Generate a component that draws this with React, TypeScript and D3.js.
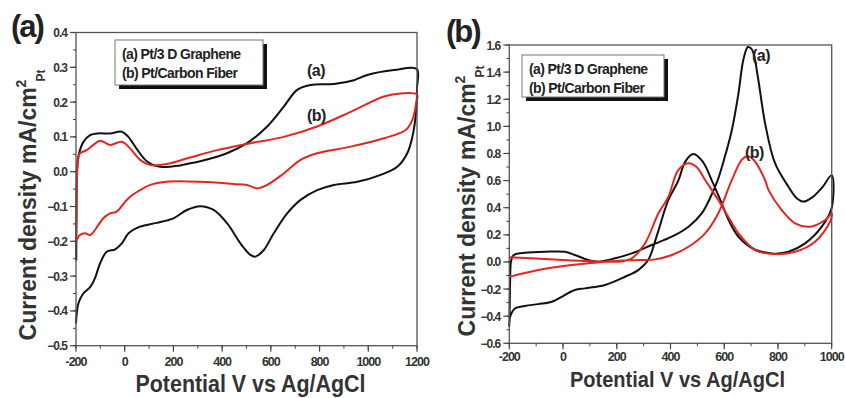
import * as d3 from "d3";

// ---- panel (a): cyclic voltammograms, Pt/3D graphene (black) and Pt/carbon fiber (red)
const cvGraphenePotential = [
  -199, -198, -196, -190, -170, -142, -108, -60, -12, 15, 50, 91, 146, 228, 269, 310, 420, 502, 585, 653, 708, 763, 859,
  941, 996, 1106, 1199,
  1200, 1197, 1181, 1160, 1119, 1051, 955, 859, 790, 722, 667, 612, 571, 537, 516, 475, 420, 365, 310, 255, 200, 131, 63,
  16, -12, -39, -74, -101, -122, -142, -170, -190, -200,
];
const cvGrapheneCurrent = [
  -0.255, -0.12, 0.0, 0.045, 0.085, 0.105, 0.11, 0.11, 0.115, 0.1, 0.065, 0.03, 0.014, 0.018, 0.024, 0.03, 0.053, 0.082,
  0.13, 0.187, 0.235, 0.249, 0.252, 0.263, 0.278, 0.292, 0.295,
  0.24, 0.177, 0.1, 0.053, 0.014, -0.009, -0.029, -0.038, -0.053, -0.081, -0.12, -0.177, -0.225, -0.244, -0.239, -0.206,
  -0.148, -0.11, -0.099, -0.11, -0.134, -0.147, -0.158, -0.177, -0.206, -0.223, -0.23, -0.263, -0.306, -0.332, -0.35,
  -0.378, -0.436,
];
const cvFiberPotential = [
  -200, -198, -195, -190, -184, -156, -129, -101, -60, -12, 22, 63, 105, 173, 269, 379, 516, 653, 790, 928, 1064, 1133,
  1200,
  1195, 1181, 1154, 1064, 928, 790, 722, 653, 585, 544, 502, 447, 310, 173, 105, 63, 22, 2, -33, -60, -88, -108, -142,
  -163, -184, -200,
];
const cvFiberCurrent = [
  -0.19, -0.1, 0.0, 0.04, 0.053, 0.062, 0.077, 0.089, 0.077, 0.086, 0.067, 0.034, 0.019, 0.022, 0.041, 0.062, 0.082, 0.1,
  0.13, 0.172, 0.216, 0.225, 0.222,
  0.192, 0.149, 0.12, 0.096, 0.072, 0.053, 0.034, -0.005, -0.038, -0.048, -0.038, -0.035, -0.029, -0.029, -0.038, -0.053,
  -0.072, -0.086, -0.115, -0.12, -0.134, -0.153, -0.182, -0.177, -0.182, -0.201,
];

// ---- panel (b): methanol oxidation scans
const moGraphenePotential = [
  -199, -197, -194, -188, -179, -142, -67, 7, 44, 94, 131, 194, 256, 330, 405, 467, 517, 547, 575, 600, 628, 653, 671,
  688, 700, 709, 727, 752, 789, 839, 870, 895, 930, 965, 1000,
  1000, 963, 901, 839, 800, 777, 715, 653, 616, 585, 554, 520, 485, 455, 429, 392, 350, 317, 280, 231, 156, 82, 44, -5,
  -42, -92, -142, -179, -197, -200,
];
const moGrapheneCurrent = [
  -0.44, -0.15, 0.0, 0.04, 0.056, 0.068, 0.075, 0.075, 0.051, 0.014, 0.002, 0.027, 0.063, 0.125, 0.186, 0.26, 0.36, 0.47,
  0.6, 0.76, 0.97, 1.244, 1.49, 1.585, 1.575, 1.54, 1.342, 1.023, 0.728, 0.555, 0.47, 0.445, 0.48, 0.55, 0.64,
  0.4, 0.26, 0.137, 0.075, 0.062, 0.063, 0.09, 0.186, 0.31, 0.46, 0.6, 0.74, 0.796, 0.74, 0.6, 0.457, 0.2, 0.014, -0.06,
  -0.109, -0.17, -0.195, -0.207, -0.257, -0.294, -0.311, -0.325, -0.343, -0.404, -0.478,
];
const moFiberPotential = [
  -200, -92, 32, 156, 280, 343, 405, 467, 529, 578, 628, 665, 684, 700, 715, 752, 765, 814, 864, 919, 976, 1000,
  994, 938, 864, 790, 715, 653, 616, 578, 529, 497, 467, 429, 392, 355, 305, 250, 150, 0, -100, -200,
];
const moFiberCurrent = [
  -0.11, -0.06, -0.023, 0.002, 0.014, 0.019, 0.051, 0.112, 0.211, 0.359, 0.604, 0.752, 0.78, 0.77, 0.74, 0.604, 0.53, 0.383,
  0.285, 0.26, 0.309, 0.359,
  0.297, 0.149, 0.075, 0.058, 0.088, 0.211, 0.33, 0.457, 0.604, 0.7, 0.728, 0.678, 0.48, 0.359, 0.137, 0.02, 0.002, 0.015,
  0.025, 0.035,
];

const yTicksA = [-0.5, -0.4, -0.3, -0.2, -0.1, 0.0, 0.1, 0.2, 0.3, 0.4];
const xTicksA = [-200, 0, 200, 400, 600, 800, 1000, 1200];
const yTicksB = [-0.6, -0.4, -0.2, 0.0, 0.2, 0.4, 0.6, 0.8, 1.0, 1.2, 1.4, 1.6];
const xTicksB = [-200, 0, 200, 400, 600, 800, 1000];
const legendLabels = ["(a) Pt/3 D Graphene", "(b) Pt/Carbon Fiber"];

const BLACK = "#111";
const RED = "#e3261f";
const FONT = "'Liberation Sans', Arial, sans-serif";

type Series = { x: number[]; y: number[]; color: string };

function Panel({
  left, right, top, bottom, xDomain, yDomain, xTicks, yTicks, xMinor, yMinor, series, letter, letterX, letterY,
  legendBox, notes, xTitle, yTitleX, yTitleY, tickGap,
}: any) {
  const x = d3.scaleLinear().domain(xDomain).range([left, right]);
  const y = d3.scaleLinear().domain(yDomain).range([bottom, top]);
  const fmt = d3.format(".1f");
  const line = d3
    .line<[number, number]>()
    .x((d) => x(d[0]))
    .y((d) => y(d[1]))
    .curve(d3.curveCatmullRom.alpha(0.5));

  const xMinorTicks = d3.range(xDomain[0], xDomain[1] + 1e-9, xMinor);
  const yMinorTicks = d3.range(0, Math.round((yDomain[1] - yDomain[0]) / yMinor) + 1).map((i) => yDomain[0] + i * yMinor);

  return (
    <g>
      {/* curves */}
      {series.map((s: Series, i: number) => (
        <path
          key={i}
          d={line(s.x.map((v, j) => [v, s.y[j]]) as [number, number][]) || ""}
          fill="none"
          stroke={s.color}
          strokeWidth={2}
          strokeLinejoin="round"
        />
      ))}
      {/* frame */}
      <rect x={left} y={top} width={right - left} height={bottom - top} fill="none" stroke="#555" strokeWidth={1.3} />
      {/* minor ticks */}
      {xMinorTicks.map((t: number) => (
        <line key={"xm" + t} x1={x(t)} x2={x(t)} y1={bottom} y2={bottom + 3} stroke="#444" strokeWidth={1} />
      ))}
      {yMinorTicks.map((t: number, i: number) => (
        <line key={"ym" + i} x1={left - 3} x2={left} y1={y(t)} y2={y(t)} stroke="#444" strokeWidth={1} />
      ))}
      {/* major ticks + labels */}
      {xTicks.map((t: number) => (
        <g key={"x" + t}>
          <line x1={x(t)} x2={x(t)} y1={bottom} y2={bottom + 6} stroke="#444" strokeWidth={1.2} />
          <text
            x={x(t)}
            y={bottom + tickGap}
            textAnchor="middle"
            fontFamily={FONT}
            fontWeight="bold"
            fontSize={12.5}
            letterSpacing={-1}
            fill="#333"
          >
            {t}
          </text>
        </g>
      ))}
      {yTicks.map((t: number) => (
        <g key={"y" + t}>
          <line x1={left - 6} x2={left} y1={y(t)} y2={y(t)} stroke="#444" strokeWidth={1.2} />
          <text
            x={left - 9}
            y={y(t) + 4.5}
            textAnchor="end"
            fontFamily={FONT}
            fontWeight="bold"
            fontSize={12}
            letterSpacing={-1}
            fill="#333"
          >
            {fmt(t)}
          </text>
        </g>
      ))}
      {/* legend with drop shadow */}
      <rect
        x={legendBox.x + 4}
        y={legendBox.y + 4}
        width={legendBox.w}
        height={legendBox.h}
        fill="#111"
      />
      <rect x={legendBox.x} y={legendBox.y} width={legendBox.w} height={legendBox.h} fill="#fff" stroke="#777" strokeWidth={1} />
      {legendLabels.map((l, i) => (
        <text
          key={l}
          x={legendBox.x + 7}
          y={legendBox.y + 19 + i * 19}
          fontFamily={FONT}
          fontWeight="bold"
          fontSize={14}
          letterSpacing={-0.6}
          fill="#222"
        >
          {l}
        </text>
      ))}
      {/* curve notes */}
      {notes.map((n: any) => (
        <text key={n.t} x={n.x} y={n.y} fontFamily={FONT} fontWeight="bold" fontSize={16} letterSpacing={-0.5} fill="#222">
          {n.t}
        </text>
      ))}
      {/* panel letter */}
      <text x={letterX} y={letterY} fontFamily={FONT} fontWeight="bold" fontSize={31} letterSpacing={-2} fill="#222">
        {letter}
      </text>
      {/* axis titles */}
      <text
        x={(left + right) / 2 + xTitle.dx}
        y={xTitle.y}
        textAnchor="middle"
        fontFamily={FONT}
        fontWeight="bold"
        fontSize={xTitle.size}
        textLength={xTitle.len}
        lengthAdjust="spacingAndGlyphs"
        fill="#333"
      >
        Potential V vs Ag/AgCl
      </text>
      <text
        transform={`translate(${yTitleX},${yTitleY}) rotate(-90)`}
        textAnchor="middle"
        fontFamily={FONT}
        fontWeight="bold"
        fontSize={23}
        fill="#333"
      >
        Current density mA/cm
        <tspan fontSize={14} dy={-10}>2</tspan>
        <tspan fontSize={12} dy={19} dx={-2}>Pt</tspan>
      </text>
    </g>
  );
}

export default function App() {
  return (
    <svg width={845} height={398} style={{ position: "absolute", left: 0, top: 0, background: "#fff" }}>
      <Panel
        left={76}
        right={417}
        top={32.5}
        bottom={345.7}
        xDomain={[-200, 1200]}
        yDomain={[-0.5, 0.4]}
        xTicks={xTicksA}
        yTicks={yTicksA}
        xMinor={100}
        yMinor={0.05}
        tickGap={20}
        series={[
          { x: cvGraphenePotential, y: cvGrapheneCurrent, color: BLACK },
          { x: cvFiberPotential, y: cvFiberCurrent, color: RED },
        ]}
        letter="(a)"
        letterX={11}
        letterY={37}
        legendBox={{ x: 115, y: 40, w: 148, h: 45 }}
        notes={[
          { t: "(a)", x: 307, y: 76 },
          { t: "(b)", x: 307, y: 121 },
        ]}
        xTitle={{ y: 392, len: 230, dx: 4, size: 24 }}
        yTitleX={36}
        yTitleY={205}
      />
      <Panel
        left={509.3}
        right={831.7}
        top={45}
        bottom={343.3}
        xDomain={[-200, 1000]}
        yDomain={[-0.6, 1.6]}
        xTicks={xTicksB}
        yTicks={yTicksB}
        xMinor={100}
        yMinor={0.1}
        tickGap={18}
        series={[
          { x: moGraphenePotential, y: moGrapheneCurrent, color: BLACK },
          { x: moFiberPotential, y: moFiberCurrent, color: RED },
        ]}
        letter="(b)"
        letterX={446}
        letterY={42}
        legendBox={{ x: 522, y: 55, w: 142, h: 42 }}
        notes={[
          { t: "(a)", x: 752, y: 61 },
          { t: "(b)", x: 745, y: 158 },
        ]}
        xTitle={{ y: 387, len: 215, dx: 7, size: 22 }}
        yTitleX={475}
        yTitleY={201}
      />
    </svg>
  );
}
